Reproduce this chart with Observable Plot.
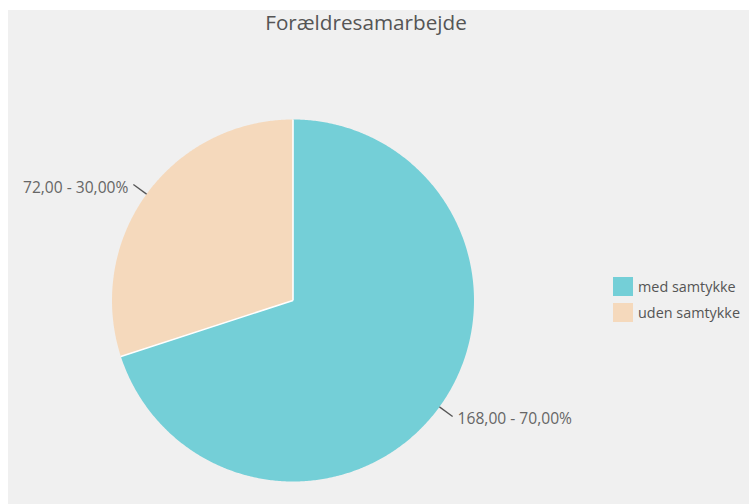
<!DOCTYPE html>
<html>
<head>
<meta charset="utf-8">
<script src="https://cdn.jsdelivr.net/npm/d3@7"></script>
<script src="https://cdn.jsdelivr.net/npm/@observablehq/plot@0.6"></script>
<style>
  html, body { margin: 0; padding: 0; background: #ffffff; }
  #wrap { position: relative; width: 749px; height: 504px; overflow: hidden; }
  #chart { position: absolute; left: 8px; top: 10px; }
  #chart svg { background: #f0f0f0; display: block; }
  #legend { position: absolute; left: 613px; top: 277px; width: 134px; }
  #legend .lg-swatches { font-family: "Open Sans", sans-serif; font-size: 14.4px; color: #555; margin: 0; line-height: 19px; }
  #legend .lg-swatch { padding-bottom: 7px !important; white-space: nowrap; }
  #legend .lg-swatch svg { margin-right: 5px !important; }
</style>
</head>
<body>
<div id="wrap">
  <div id="chart"></div>
  <div id="legend"></div>
</div>
<script>
const title = "Forældresamarbejde";
const categories = ["med samtykke", "uden samtykke"];
const values = [168, 72];
const labels = ["168,00 - 70,00%", "72,00 - 30,00%"];
const colors = ["#74cfd7", "#f5d9bc"];

const total = d3.sum(values);
let acc = 0;
const slices = categories.map((c, i) => {
  const a0 = acc / total * 2 * Math.PI;
  acc += values[i];
  const a1 = acc / total * 2 * Math.PI;
  return {cat: c, value: values[i], label: labels[i], a0, a1, mid: (a0 + a1) / 2};
});

// polygon outline of each slice (centre + arc), angle from 12 o'clock clockwise
const pts = [];
for (const s of slices) {
  pts.push({cat: s.cat, x: 0, y: 0});
  const n = Math.max(2, Math.ceil((s.a1 - s.a0) / (Math.PI / 360)));
  for (let k = 0; k <= n; k++) {
    const a = s.a0 + (s.a1 - s.a0) * k / n;
    pts.push({cat: s.cat, x: Math.sin(a), y: Math.cos(a)});
  }
}

const W = 741, H = 494, R = 181, CX = 284.5, CY = 290;
const leadIn = 1.0, leadOut = 1.09;

const plot = Plot.plot({
  width: W, height: H, margin: 0,
  x: {domain: [-CX / R, (W - CX) / R], axis: null},
  y: {domain: [-(H - CY) / R, CY / R], axis: null},
  color: {domain: categories, range: colors},
  style: {background: "#f0f0f0", overflow: "visible"},
  marks: [
    Plot.line(pts, {x: "x", y: "y", z: "cat", fill: "cat", stroke: "none", curve: "linear-closed"}),
    Plot.link(slices, {
      x1: 0, y1: 0,
      x2: d => Math.sin(d.a0), y2: d => Math.cos(d.a0),
      stroke: "#ffffff", strokeWidth: 1.6
    }),
    Plot.link(slices, {
      x1: d => leadIn * Math.sin(d.mid), y1: d => leadIn * Math.cos(d.mid),
      x2: d => leadOut * Math.sin(d.mid), y2: d => leadOut * Math.cos(d.mid),
      stroke: "#555", strokeWidth: 1.3
    }),
    Plot.text(slices.filter(d => Math.sin(d.mid) >= 0), {
      x: d => leadOut * Math.sin(d.mid), y: d => leadOut * Math.cos(d.mid),
      text: "label", textAnchor: "start", dx: 5, dy: 3,
      fontSize: 15.6, fill: "#666", fontFamily: "Open Sans"
    }),
    Plot.text(slices.filter(d => Math.sin(d.mid) < 0), {
      x: d => leadOut * Math.sin(d.mid), y: d => leadOut * Math.cos(d.mid),
      text: "label", textAnchor: "end", dx: -5, dy: 3,
      fontSize: 15.6, fill: "#666", fontFamily: "Open Sans"
    }),
    Plot.text([title], {
      frameAnchor: "top", text: d => d, dx: -13, dy: 5,
      fontSize: 20.7, fill: "#555", fontFamily: "Open Sans"
    })
  ]
});
document.getElementById("chart").appendChild(plot);

const legend = Plot.legend({
  color: {domain: categories, range: colors},
  legend: "swatches", columns: 1,
  swatchWidth: 20, swatchHeight: 19,
  className: "lg"
});
document.getElementById("legend").appendChild(legend);
</script>
</body>
</html>
